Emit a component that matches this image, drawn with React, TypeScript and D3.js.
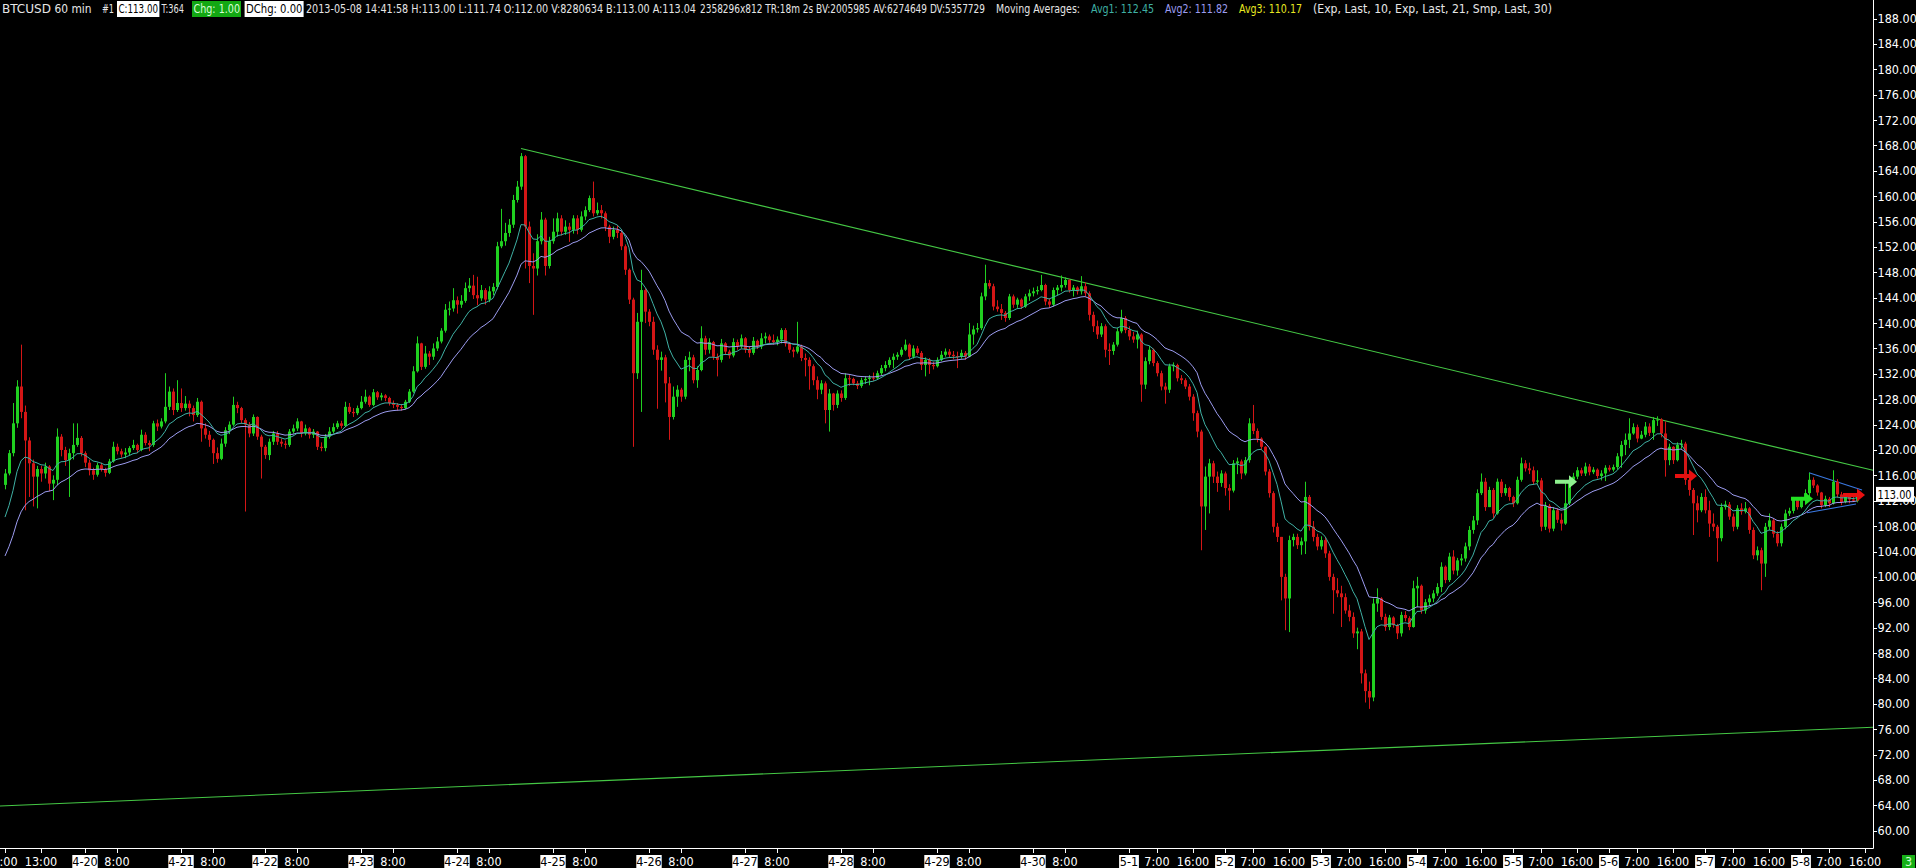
import React from "react";
import { scaleLinear, line } from "d3";

// BTCUSD 60 min bars, 4-19 04:00 .. 5-8 14:00
const CLOSE = [
  116.3, 119.5, 124.2, 130.0, 126.0, 121.5, 117.9, 115.8, 117.0, 116.3,
  117.4, 114.7, 115.3, 122.1, 120.0, 118.4, 119.5, 120.8, 121.9, 119.5,
  118.0, 116.8, 116.1, 117.6, 117.0, 116.4, 118.2, 120.5, 119.8, 119.3,
  119.6, 120.3, 120.8, 120.0, 122.4, 121.1, 120.8, 124.2, 123.7, 124.5,
  126.8, 129.2, 126.3, 127.4, 126.6, 127.3, 126.6, 125.5, 127.6, 123.4,
  122.4, 121.6, 119.5, 118.6, 121.0, 123.1, 124.0, 127.1, 126.6, 124.7,
  124.0, 122.6, 125.2, 122.1, 120.5, 119.2, 121.3, 122.6, 121.3, 121.0,
  120.8, 122.9, 123.4, 124.5, 122.6, 123.4, 122.4, 122.9, 120.5, 120.3,
  122.1, 122.9, 123.6, 124.2, 123.8, 126.8, 126.0, 125.8, 126.6, 127.6,
  128.4, 127.1, 129.1, 128.3, 128.6, 128.2, 127.4, 127.1, 126.8, 126.6,
  127.6, 129.2, 132.4, 136.8, 133.1, 135.2, 134.7, 136.0, 137.1, 138.8,
  142.1, 142.3, 143.6, 142.9, 143.5, 145.5, 145.9, 144.4, 143.9, 145.2,
  143.7, 145.0, 145.7, 152.1, 152.9, 154.2, 155.5, 159.4, 161.5, 166.3,
  155.2, 149.0, 148.6, 152.9, 156.3, 149.0, 152.9, 154.4, 156.5, 154.4,
  155.2, 154.7, 156.5, 154.7, 156.8, 157.8, 159.7, 157.3, 157.8, 157.3,
  155.2, 153.6, 154.7, 154.2, 152.1, 148.4, 143.7, 132.1, 140.2, 145.2,
  141.8, 140.2, 135.8, 134.2, 134.6, 130.5, 125.2, 128.4, 129.5, 128.4,
  134.2, 134.6, 131.0, 132.6, 137.6, 135.8, 137.0, 134.7, 134.2, 136.8,
  135.5, 134.9, 137.0, 136.3, 137.6, 135.8, 135.3, 137.2, 136.3, 137.6,
  137.9, 137.3, 137.0, 137.4, 138.9, 136.8, 135.8, 135.5, 136.3, 134.5,
  134.2, 133.2, 131.0, 129.5, 130.5, 126.3, 128.9, 127.1, 128.9, 128.2,
  131.3, 131.2, 130.5, 130.1, 131.0, 131.2, 131.4, 131.3, 132.1, 132.9,
  133.4, 134.2, 134.7, 135.0, 135.8, 136.6, 134.7, 136.0, 135.3, 133.4,
  134.2, 133.4, 133.2, 134.2, 135.0, 135.5, 135.0, 134.8, 134.7, 135.3,
  134.7, 138.2, 139.0, 139.2, 144.2, 146.3, 145.8, 142.6, 142.2, 141.6,
  140.8, 144.2, 142.9, 143.7, 142.6, 144.2, 144.7, 145.0, 145.2, 146.0,
  143.4, 142.9, 145.2, 145.6, 146.0, 146.8, 145.2, 145.6, 145.0, 145.8,
  144.7, 141.3, 139.5, 138.2, 139.5, 135.8, 135.6, 136.6, 138.7, 140.8,
  138.9, 137.9, 137.4, 138.2, 130.3, 134.0, 135.8, 133.7, 132.1, 130.0,
  129.5, 133.2, 133.4, 131.3, 131.0, 130.0, 128.4, 125.8, 122.9, 111.1,
  115.8, 117.9, 115.8, 114.8, 116.3, 114.0, 113.6, 117.9, 118.2, 116.3,
  118.4, 124.2, 123.0, 121.8, 120.5, 116.6, 113.2, 107.9, 106.3, 100.0,
  96.6, 105.8, 106.3, 105.0, 105.6, 112.6, 107.9, 106.3, 104.8, 105.8,
  103.7, 100.0, 97.9, 97.4, 96.8, 94.7, 93.7, 91.1, 91.4, 84.8,
  82.0, 81.0, 95.8, 96.6, 93.7, 92.1, 93.6, 92.4, 91.1, 94.0,
  93.5, 92.1, 98.2, 98.6, 94.7, 96.0, 96.6, 97.4, 98.4, 101.6,
  99.5, 103.2, 101.0, 102.6, 102.9, 104.8, 107.4, 108.9, 113.2, 115.0,
  111.0, 113.7, 110.0, 115.0, 113.2, 114.0, 112.6, 111.6, 115.3, 117.9,
  117.1, 116.8, 115.0, 115.2, 107.9, 111.2, 107.6, 110.5, 109.0, 108.4,
  111.6, 115.3, 115.8, 116.8, 116.3, 117.4, 116.5, 116.9, 115.9, 116.3,
  117.2, 116.9, 117.3, 119.0, 120.8, 121.6, 122.6, 123.6, 121.8, 122.4,
  123.7, 122.7, 124.7, 124.8, 122.6, 118.4, 120.5, 118.4, 120.8, 121.0,
  115.3, 113.7, 111.6, 110.5, 112.6, 110.5, 108.4, 107.9, 106.1, 111.0,
  111.4, 109.5, 107.9, 110.8, 110.3, 110.8, 107.4, 103.4, 104.2, 102.1,
  107.9, 108.9, 106.8, 105.3, 107.9, 110.0, 110.4, 112.1, 111.0, 112.1,
  113.2, 115.3, 114.4, 113.3, 111.3, 112.3, 111.6, 115.0, 113.0, 111.8,
  112.6, 112.2, 112.0, 113.0,
];

const HIGH = [
  117.0, 120.0, 127.4, 131.0, 136.6, 127.0, 122.0, 118.5, 117.5, 117.5,
  118.0, 117.6, 116.0, 123.4, 122.5, 120.5, 120.2, 124.2, 124.2, 122.2,
  119.8, 118.5, 117.2, 118.0, 118.0, 117.2, 118.6, 121.3, 121.0, 120.2,
  120.3, 120.6, 121.6, 121.0, 123.2, 122.8, 121.5, 124.6, 124.8, 125.0,
  132.1, 130.0, 129.7, 131.0, 129.7, 128.5, 127.8, 127.0, 128.2, 127.8,
  124.2, 123.0, 121.8, 120.4, 121.8, 123.6, 124.5, 128.4, 127.6, 126.8,
  125.0, 124.4, 125.6, 125.3, 122.4, 120.8, 121.8, 123.0, 123.0, 121.8,
  121.5, 123.3, 124.0, 125.0, 124.6, 124.0, 123.6, 123.3, 123.0, 121.2,
  122.5, 123.6, 124.2, 124.6, 124.6, 127.6, 127.4, 126.6, 127.0, 128.5,
  129.5, 128.6, 129.6, 129.3, 129.0, 128.8, 128.4, 127.8, 127.4, 127.2,
  127.9, 129.6, 133.2, 137.9, 136.9, 136.4, 135.6, 136.8, 137.8, 139.2,
  143.0, 143.4, 145.5, 144.2, 144.4, 146.4, 147.1, 147.6, 147.3, 146.0,
  145.5, 145.8, 146.3, 152.8, 158.0, 155.8, 156.4, 160.2, 162.4, 166.8,
  166.5, 156.0, 151.0, 154.0, 157.5, 156.6, 153.6, 156.5, 157.4, 157.0,
  156.2, 155.8, 157.0, 157.0, 157.6, 158.4, 160.1, 162.3, 159.0, 158.6,
  157.6, 155.5, 155.2, 155.4, 154.6, 152.4, 148.6, 144.0, 141.6, 148.4,
  145.5, 142.2, 141.0, 136.5, 135.5, 135.0, 131.5, 130.0, 130.2, 129.8,
  134.8, 135.5, 135.0, 133.2, 139.5, 138.0, 137.6, 137.2, 135.2, 137.5,
  137.0, 135.8, 137.6, 137.4, 138.2, 137.8, 136.3, 137.8, 137.4, 138.4,
  138.5, 138.2, 138.2, 137.9, 139.2, 139.2, 137.0, 136.2, 140.2, 136.6,
  135.2, 134.6, 133.5, 131.6, 131.0, 130.8, 129.6, 129.0, 129.4, 129.4,
  132.1, 131.8, 131.4, 130.9, 131.4, 131.6, 131.8, 132.2, 132.5, 133.4,
  134.0, 134.6, 135.2, 135.4, 136.2, 137.4, 136.8, 136.5, 136.4, 135.6,
  134.6, 134.5, 133.9, 134.6, 135.6, 136.0, 135.9, 135.6, 135.5, 135.8,
  135.6, 140.0, 139.6, 140.0, 144.8, 149.2, 146.8, 146.2, 143.6, 143.0,
  141.9, 144.6, 144.5, 144.0, 143.9, 144.6, 145.3, 145.6, 145.8, 147.6,
  146.2, 143.8, 145.6, 146.0, 147.5, 147.2, 146.9, 146.0, 145.8, 147.4,
  146.4, 145.0, 141.8, 140.4, 140.0, 139.8, 136.8, 137.0, 139.2, 142.1,
  141.1, 139.5, 138.6, 138.8, 138.4, 134.6, 136.4, 136.0, 134.0, 132.5,
  130.6, 133.6, 133.8, 133.6, 131.8, 131.3, 130.4, 128.8, 126.2, 123.2,
  117.4, 118.6, 118.3, 116.6, 116.8, 116.6, 114.6, 118.4, 118.8, 118.5,
  118.9, 125.0, 127.1, 123.4, 122.0, 120.6, 117.0, 113.5, 108.5, 105.4,
  100.5, 106.5, 106.8, 106.8, 106.2, 115.0, 112.9, 108.8, 106.8, 106.4,
  106.3, 104.1, 100.5, 99.8, 98.6, 97.4, 95.6, 94.4, 92.0, 91.8,
  85.4, 83.5, 96.6, 98.2, 96.8, 94.2, 94.0, 93.8, 92.6, 94.5,
  94.6, 93.8, 99.4, 100.0, 98.8, 96.5, 97.2, 97.9, 99.0, 102.3,
  101.8, 103.8, 104.2, 103.0, 103.6, 105.4, 108.0, 109.6, 113.8, 116.3,
  115.6, 114.2, 114.0, 115.5, 115.4, 114.6, 114.2, 112.8, 115.8, 118.8,
  118.4, 118.0, 117.4, 116.8, 115.6, 111.8, 111.5, 111.0, 110.8, 110.0,
  115.0, 115.8, 116.4, 117.3, 117.2, 118.0, 117.8, 117.3, 117.1, 116.8,
  117.6, 117.6, 117.7, 119.5, 121.4, 122.6, 125.0, 124.2, 124.0, 123.0,
  124.4, 124.2, 125.2, 125.3, 125.0, 124.5, 121.0, 120.6, 121.2, 121.6,
  121.3, 115.8, 114.0, 112.8, 113.2, 113.8, 112.0, 110.0, 108.2, 111.6,
  112.0, 111.8, 110.0, 111.3, 111.6, 111.8, 111.0, 107.8, 104.8, 104.6,
  108.5, 110.0, 109.2, 107.2, 108.4, 110.6, 110.9, 112.6, 112.5, 112.6,
  113.8, 116.4, 115.7, 114.6, 113.4, 112.8, 112.6, 116.8, 115.4, 113.4,
  113.0, 112.9, 112.9, 113.0,
];

const LOW = [
  113.8, 116.0, 119.0, 123.5, 125.0, 110.5, 112.6, 111.1, 110.8, 115.0,
  115.5, 113.5, 112.1, 114.5, 119.0, 117.5, 112.6, 118.5, 120.5, 119.0,
  117.3, 116.0, 115.3, 115.8, 116.6, 115.8, 116.2, 118.0, 119.3, 118.8,
  118.7, 119.2, 120.0, 119.5, 119.8, 120.7, 119.8, 120.5, 123.0, 123.4,
  124.2, 126.3, 125.5, 126.0, 126.0, 126.2, 125.3, 124.5, 125.2, 121.3,
  121.8, 120.5, 117.8, 118.0, 118.4, 120.5, 122.5, 123.8, 125.8, 124.2,
  110.3, 122.0, 122.2, 121.6, 115.5, 118.6, 118.4, 120.8, 120.8, 120.5,
  120.2, 120.5, 122.6, 123.0, 122.0, 122.3, 121.8, 121.9, 120.0, 119.8,
  119.8, 121.8, 122.6, 123.3, 123.4, 123.6, 125.7, 125.2, 125.5, 126.4,
  127.3, 126.8, 126.9, 127.9, 127.8, 127.7, 127.0, 126.6, 126.2, 126.2,
  126.4, 127.4, 129.0, 132.2, 132.6, 132.8, 133.4, 134.2, 135.6, 136.8,
  138.5, 141.2, 141.8, 141.5, 142.4, 143.2, 144.9, 143.8, 142.8, 143.5,
  142.9, 143.3, 144.4, 145.3, 151.8, 152.2, 153.6, 155.0, 159.0, 161.0,
  148.6, 146.3, 141.3, 147.5, 152.4, 147.5, 148.6, 152.5, 153.6, 153.8,
  153.9, 152.8, 154.1, 154.0, 154.4, 156.2, 157.5, 156.8, 157.0, 156.5,
  154.5, 152.6, 153.2, 153.4, 151.5, 147.6, 143.0, 120.5, 131.2, 126.0,
  140.0, 139.5, 135.0, 126.5, 132.5, 127.5, 121.6, 124.8, 126.8, 127.6,
  128.0, 132.4, 130.5, 129.8, 132.4, 135.0, 135.2, 134.2, 131.6, 133.8,
  135.0, 134.4, 134.6, 135.8, 136.0, 135.3, 134.6, 135.0, 135.9, 135.9,
  136.8, 136.9, 136.6, 136.5, 136.8, 136.3, 135.3, 134.6, 135.2, 134.0,
  131.6, 129.5, 130.2, 128.0, 128.8, 124.2, 122.9, 126.2, 126.6, 127.6,
  127.9, 130.1, 130.2, 129.6, 129.8, 130.4, 130.2, 130.9, 131.2, 131.8,
  132.4, 133.0, 132.9, 134.2, 134.7, 135.6, 134.2, 134.4, 135.0, 132.6,
  131.6, 132.0, 132.7, 133.0, 134.0, 134.7, 134.6, 134.3, 132.9, 134.4,
  134.2, 134.6, 136.6, 138.5, 138.9, 143.6, 145.4, 142.0, 141.8, 140.5,
  140.2, 140.5, 142.4, 142.4, 142.2, 142.4, 143.5, 144.2, 144.5, 145.0,
  142.8, 142.4, 142.6, 144.4, 145.0, 145.6, 144.8, 144.2, 144.5, 144.5,
  144.2, 140.4, 138.6, 137.5, 137.8, 134.6, 133.4, 135.0, 136.3, 138.4,
  138.4, 137.3, 136.9, 136.0, 127.6, 129.6, 133.5, 133.2, 131.6, 129.4,
  127.3, 129.0, 132.4, 130.8, 130.4, 129.6, 127.8, 124.6, 122.0, 104.2,
  107.4, 110.0, 114.8, 113.4, 114.2, 112.8, 110.5, 113.3, 116.2, 115.4,
  116.0, 118.0, 122.5, 121.2, 120.0, 116.0, 112.5, 107.0, 105.5, 96.3,
  91.6, 91.3, 104.8, 104.4, 103.5, 103.6, 107.3, 105.6, 104.2, 104.3,
  103.0, 99.4, 94.2, 96.8, 92.1, 94.2, 93.0, 90.4, 88.6, 83.2,
  80.2, 79.2, 80.4, 94.5, 93.2, 91.5, 91.6, 92.0, 90.2, 90.6,
  93.0, 91.6, 92.0, 95.2, 94.2, 94.2, 95.4, 96.0, 97.0, 97.6,
  99.0, 99.2, 100.4, 100.2, 101.8, 102.4, 104.2, 106.8, 108.2, 112.9,
  110.4, 112.3, 109.3, 109.8, 112.6, 112.8, 112.0, 111.0, 111.4, 115.0,
  116.6, 116.2, 114.5, 114.7, 107.2, 107.4, 107.0, 107.2, 108.5, 107.3,
  108.2, 111.3, 115.0, 115.4, 115.9, 115.9, 116.0, 116.2, 115.5, 115.2,
  115.1, 116.6, 116.6, 116.9, 117.2, 119.2, 120.3, 122.4, 121.2, 121.7,
  122.0, 122.2, 121.6, 123.8, 122.0, 115.8, 117.6, 117.8, 118.2, 120.2,
  114.5, 112.8, 106.6, 108.6, 110.2, 110.0, 106.3, 107.2, 102.4, 105.6,
  110.6, 109.0, 107.2, 107.5, 109.8, 110.0, 106.8, 102.8, 102.6, 97.9,
  100.0, 107.4, 106.2, 104.8, 104.8, 107.5, 109.6, 110.0, 110.6, 110.8,
  111.5, 112.5, 114.0, 112.8, 110.8, 111.0, 111.0, 111.4, 112.5, 111.3,
  111.6, 111.6, 111.8, 111.74,
];

const FIRST_OPEN = 114.5;
// moving averages: [period, value just before the first visible bar, colour]
const MOVING_AVERAGES: [number, number, string][] = [
  [21, 102.0, "#9c9cf0"],
  [10, 107.9, "#3fb0a4"],
];

const Y_TICKS = [
  60, 64, 68, 72, 76, 80, 84, 88, 92, 96, 100, 104, 108, 112, 116, 120,
  124, 128, 132, 136, 140, 144, 148, 152, 156, 160, 164, 168, 172, 176,
  180, 184, 188,
];

// [label, bar index, is a date]
const X_TICKS: [string, number, boolean][] = [
  ["4:00", 0, false], ["13:00", 9, false],
  ["4-20", 20, true], ["8:00", 28, false],
  ["4-21", 44, true], ["8:00", 52, false],
  ["4-22", 65, true], ["8:00", 73, false],
  ["4-23", 89, true], ["8:00", 97, false],
  ["4-24", 113, true], ["8:00", 121, false],
  ["4-25", 137, true], ["8:00", 145, false],
  ["4-26", 161, true], ["8:00", 169, false],
  ["4-27", 185, true], ["8:00", 193, false],
  ["4-28", 209, true], ["8:00", 217, false],
  ["4-29", 233, true], ["8:00", 241, false],
  ["4-30", 257, true], ["8:00", 265, false],
  ["5-1", 281, true], ["7:00", 288, false], ["16:00", 297, false],
  ["5-2", 305, true], ["7:00", 312, false], ["16:00", 321, false],
  ["5-3", 329, true], ["7:00", 336, false], ["16:00", 345, false],
  ["5-4", 353, true], ["7:00", 360, false], ["16:00", 369, false],
  ["5-5", 377, true], ["7:00", 384, false], ["16:00", 393, false],
  ["5-6", 401, true], ["7:00", 408, false], ["16:00", 417, false],
  ["5-7", 425, true], ["7:00", 432, false], ["16:00", 441, false],
  ["5-8", 449, true], ["7:00", 456, false], ["16:00", 465, false],
];

// drawn lines: [bar1, price1, bar2, price2, colour]
const DRAWN_LINES: [number, number, number, number, string][] = [
  [129, 167.5, 467, 116.8, "#45c845"],
  [-1.25, 63.9, 467, 76.3, "#45c845"],
  [451, 116.4, 464.25, 113.7, "#3a78e0"],
  [450.5, 110.1, 462.75, 111.5, "#3a78e0"],
];

// signal arrows: [from bar, to bar, price, colour]
const ARROWS: [number, number, number, string][] = [
  [387.5, 393, 115.0, "#8ef08e"],
  [417.5, 423, 115.9, "#e81010"],
  [446.5, 452, 112.3, "#22e022"],
  [459.5, 465, 112.9, "#e81010"],
];

const FONT = "'Liberation Sans Narrow', 'Arial Narrow', 'DejaVu Sans Condensed', sans-serif";
const UP = "#20d020";
const DOWN = "#d41616";

export default function App() {
  const W = 1916;
  const H = 868;
  const right = 1873;
  const bottom = 848;

  const x = scaleLinear().domain([0, CLOSE.length - 1]).range([5, 1857]);
  const y = scaleLinear().domain([60, 188]).range([830.7, 18.5]);

  const opens = CLOSE.map((c, i) => (i === 0 ? FIRST_OPEN : CLOSE[i - 1]));

  const maLine = line<number>()
    .x((_, i) => x(i))
    .y((v) => y(v));

  const mas = MOVING_AVERAGES.map(([period, start, color]) => {
    const k = 2 / (period + 1);
    let prev = start;
    const vals = CLOSE.map((c) => (prev = prev + (c - prev) * k));
    return { color, d: maLine(vals) || "" };
  });

  const last = CLOSE[CLOSE.length - 1];

  const hdr = { fontFamily: FONT, fontSize: 12 } as const;

  return (
    <div style={{ position: "fixed", left: 0, top: 0, width: W, height: H, background: "#000" }}>
      <svg width={W} height={H} style={{ display: "block" }}>
        <rect width={W} height={H} fill="#000" />

        {/* header */}
        <g {...hdr} fill="#e6e6e6">
          <text x={2} y={13} textLength={49} lengthAdjust="spacingAndGlyphs">BTCUSD</text>
          <text x={54.5} y={13} textLength={37} lengthAdjust="spacingAndGlyphs">60 min</text>
          <text x={102} y={13} textLength={12} lengthAdjust="spacingAndGlyphs">#1</text>
          <rect x={117} y={1} width={42.4} height={16} fill="#fff" />
          <text x={118.5} y={13} textLength={39.5} lengthAdjust="spacingAndGlyphs" fill="#000">C:113.00</text>
          <text x={161.6} y={13} textLength={22.4} lengthAdjust="spacingAndGlyphs">T:364</text>
          <rect x={192} y={1} width={49} height={16} fill="#13a813" />
          <text x={193.5} y={13} textLength={46.5} lengthAdjust="spacingAndGlyphs" fill="#d8ffd8">Chg: 1.00</text>
          <rect x={244.6} y={1} width={59} height={16} fill="#fff" />
          <text x={246} y={13} textLength={56.5} lengthAdjust="spacingAndGlyphs" fill="#000">DChg: 0.00</text>
          <text x={306} y={13} textLength={390} lengthAdjust="spacingAndGlyphs">
            2013-05-08 14:41:58 H:113.00 L:111.74 O:112.00 V:8280634 B:113.00 A:113.04
          </text>
          <text x={700} y={13} textLength={285} lengthAdjust="spacingAndGlyphs">
            2358296x812 TR:18m 2s BV:2005985 AV:6274649 DV:5357729
          </text>
          <text x={996} y={13} textLength={84} lengthAdjust="spacingAndGlyphs">Moving Averages:</text>
          <text x={1091} y={13} textLength={63} lengthAdjust="spacingAndGlyphs" fill="#3fb0a4">Avg1: 112.45</text>
          <text x={1165} y={13} textLength={63} lengthAdjust="spacingAndGlyphs" fill="#9c9cf0">Avg2: 111.82</text>
          <text x={1239} y={13} textLength={63} lengthAdjust="spacingAndGlyphs" fill="#e8e820">Avg3: 110.17</text>
          <text x={1313} y={13} textLength={239} lengthAdjust="spacingAndGlyphs">
            (Exp, Last, 10, Exp, Last, 21, Smp, Last, 30)
          </text>
        </g>

        {/* drawn trend lines */}
        {DRAWN_LINES.map(([b1, p1, b2, p2, c], i) => (
          <line key={`dl${i}`} x1={x(b1)} y1={y(p1)} x2={x(b2)} y2={y(p2)} stroke={c} strokeWidth={1.1} />
        ))}

        {/* candles */}
        {CLOSE.map((c, i) => {
          const o = opens[i];
          const hi = Math.max(HIGH[i], o, c);
          const lo = Math.min(LOW[i], o, c);
          const col = c >= o ? UP : DOWN;
          const cx = Math.round(x(i));
          const top = y(Math.max(o, c));
          const h = Math.max(1, y(Math.min(o, c)) - top);
          return (
            <g key={i} fill={col}>
              <rect x={cx} y={y(hi)} width={1} height={Math.max(1, y(lo) - y(hi))} />
              <rect x={cx - 1} y={top} width={3} height={h} />
            </g>
          );
        })}

        {/* moving averages */}
        {mas.map((m, i) => (
          <path key={`ma${i}`} d={m.d} fill="none" stroke={m.color} strokeWidth={1} />
        ))}

        {/* arrows */}
        {ARROWS.map(([b1, b2, p, c], i) => {
          const x0 = x(b1);
          const x1 = x(b2);
          const yy = y(p);
          const hl = 8;
          const d = `M${x0},${yy - 2} L${x1 - hl},${yy - 2} L${x1 - hl},${yy - 6.5} L${x1},${yy} L${x1 - hl},${yy + 6.5} L${x1 - hl},${yy + 2} L${x0},${yy + 2} Z`;
          return <path key={`ar${i}`} d={d} fill={c} />;
        })}

        {/* axes */}
        <rect x={0} y={bottom + 1} width={W} height={H - bottom} fill="#000" />
        <rect x={right + 1} y={0} width={W - right} height={H} fill="#000" />
        <line x1={right + 0.5} y1={0} x2={right + 0.5} y2={bottom + 0.5} stroke="#fff" strokeWidth={1} />
        <line x1={0} y1={bottom + 0.5} x2={right + 0.5} y2={bottom + 0.5} stroke="#fff" strokeWidth={1} />

        {Y_TICKS.map((t) => (
          <g key={`yt${t}`}>
            <line x1={right} x2={right + 4} y1={Math.round(y(t)) + 0.5} y2={Math.round(y(t)) + 0.5} stroke="#fff" />
            <text x={right + 4.5} y={y(t) + 4.5} fill="#fff" fontFamily={FONT} fontSize={12.5}>
              {t.toFixed(2)}
            </text>
          </g>
        ))}

        {/* last price */}
        <rect x={right + 3} y={y(last) - 7.5} width={38} height={15} fill="#fff" />
        <text
          x={right + 4.5}
          y={y(last) + 4.5}
          fill="#000"
          fontFamily={FONT}
          fontSize={12.5}
          textLength={34}
          lengthAdjust="spacingAndGlyphs"
        >
          {last.toFixed(2)}
        </text>

        {X_TICKS.map(([label, at, isDate], i) => {
          const tx = x(at);
          const w = label.length * 5.6 + 3;
          return (
            <g key={`xt${i}`}>
              <line x1={Math.round(tx) + 0.5} x2={Math.round(tx) + 0.5} y1={bottom} y2={bottom + 5} stroke="#fff" />
              {isDate && <rect x={tx - w / 2} y={855} width={w} height={13} fill="#fff" />}
              <text
                x={tx}
                y={865.5}
                textAnchor="middle"
                fill={isDate ? "#000" : "#fff"}
                fontFamily={FONT}
                fontSize={12.5}
              >
                {label}
              </text>
            </g>
          );
        })}

        {/* page counter */}
        <rect x={1902} y={855} width={13} height={13} fill="#17b017" />
        <text x={1908.5} y={866} textAnchor="middle" fill="#d0ffd0" fontFamily={FONT} fontSize={12.5}>
          3
        </text>
      </svg>
    </div>
  );
}
